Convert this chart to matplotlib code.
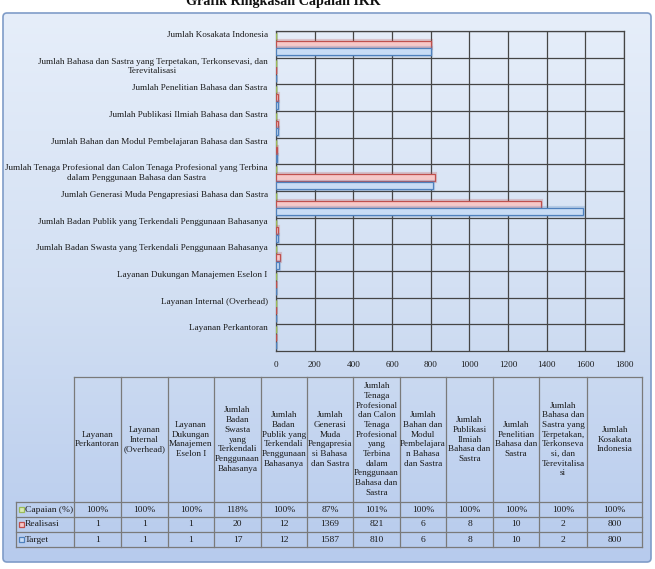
import numpy as np
import matplotlib.pyplot as plt
from matplotlib.patches import Rectangle, FancyBboxPatch
from matplotlib.colors import LinearSegmentedColormap
import matplotlib.patheffects as pe

plt.rcParams['font.family'] = ['Liberation Serif', 'DejaVu Serif']

# categories from bottom of the chart to the top (= table column order)
axis_labels = [
    "Layanan Perkantoran",
    "Layanan Internal (Overhead)",
    "Layanan Dukungan Manajemen Eselon I",
    "Jumlah Badan Swasta yang Terkendali Penggunaan Bahasanya",
    "Jumlah Badan Publik yang Terkendali Penggunaan Bahasanya",
    "Jumlah Generasi Muda Pengapresiasi Bahasa dan Sastra",
    "Jumlah Tenaga Profesional dan Calon Tenaga Profesional yang Terbina\ndalam Penggunaan Bahasa dan Sastra",
    "Jumlah Bahan dan Modul Pembelajaran Bahasa dan Sastra",
    "Jumlah Publikasi Ilmiah Bahasa dan Sastra",
    "Jumlah Penelitian Bahasa dan Sastra",
    "Jumlah Bahasa dan Sastra yang Terpetakan, Terkonsevasi, dan\nTerevitalisasi",
    "Jumlah Kosakata Indonesia",
]
table_headers = [
    "Layanan\nPerkantoran",
    "Layanan\nInternal\n(Overhead)",
    "Layanan\nDukungan\nManajemen\nEselon I",
    "Jumlah\nBadan\nSwasta\nyang\nTerkendali\nPenggunaan\nBahasanya",
    "Jumlah\nBadan\nPublik yang\nTerkendali\nPenggunaan\nBahasanya",
    "Jumlah\nGenerasi\nMuda\nPengapresia\nsi Bahasa\ndan Sastra",
    "Jumlah\nTenaga\nProfesional\ndan Calon\nTenaga\nProfesional\nyang\nTerbina\ndalam\nPenggunaan\nBahasa dan\nSastra",
    "Jumlah\nBahan dan\nModul\nPembelajara\nn Bahasa\ndan Sastra",
    "Jumlah\nPublikasi\nIlmiah\nBahasa dan\nSastra",
    "Jumlah\nPenelitian\nBahasa dan\nSastra",
    "Jumlah\nBahasa dan\nSastra yang\nTerpetakan,\nTerkonseva\nsi, dan\nTerevitalisa\nsi",
    "Jumlah\nKosakata\nIndonesia",
]
series_names = ["Capaian (%)", "Realisasi", "Target"]
capaian = [1.00, 1.00, 1.00, 1.18, 1.00, 0.87, 1.01, 1.00, 1.00, 1.00, 1.00, 1.00]
realisasi = [1, 1, 1, 20, 12, 1369, 821, 6, 8, 10, 2, 800]
target = [1, 1, 1, 17, 12, 1587, 810, 6, 8, 10, 2, 800]
x_ticks = [0, 200, 400, 600, 800, 1000, 1200, 1400, 1600, 1800]
title = "Grafik Ringkasan Capaian IKK"

W, H = 655, 569
fig = plt.figure(figsize=(W / 100, H / 100), dpi=100)
fig.patch.set_facecolor('white')

# background layer in pixel coordinates
bg = fig.add_axes([0, 0, 1, 1])
bg.set_xlim(0, W)
bg.set_ylim(H, 0)
bg.axis('off')

frame = FancyBboxPatch((3, 13), 648, 549, boxstyle="round,pad=0,rounding_size=4",
                       facecolor='none', edgecolor='#7f9cc8', lw=1.2, zorder=3)
bg.add_patch(frame)
cmap = LinearSegmentedColormap.from_list('bgc', ['#e6eefa', '#d3e0f3', '#b7cbed'])
grad = np.linspace(0, 1, 256).reshape(-1, 1)
im = bg.imshow(grad, cmap=cmap, aspect='auto', extent=[3, 651, 562, 13], zorder=1)
im.set_clip_path(frame)

# title is cut by the top edge, as in the original screenshot
bg.text(283, 5, title, ha='center', va='baseline', fontsize=10.2,
        fontweight='bold', color='#111111')

# bar chart
ax = fig.add_axes([276 / W, 1 - 351 / H, (624 - 276) / W, (351 - 31) / H])
ax.patch.set_alpha(0)
y = np.arange(len(axis_labels))
h = 0.26
styles = [('#d9ebb6', '#9bbb59', 0.29), ('#f6c8c8', '#c0504d', 0.01), ('#c8dcf5', '#4f81bd', -0.28)]
for vals, (fc, ec, off) in zip([capaian, realisasi, target], styles):
    ax.barh(y + off, vals, h, color=fc, edgecolor=ec, lw=0.9, zorder=3,
            path_effects=[pe.withStroke(linewidth=3, foreground=ec, alpha=0.25)])

ax.set_xlim(0, 1800)
ax.set_ylim(-0.5, len(axis_labels) - 0.5)
ax.set_xticks(x_ticks)
ax.set_yticks(y + 0.5)
ax.set_yticklabels(axis_labels)
for t in ax.get_yticklabels():
    t.set_va('top')
    t.set_multialignment('center')
ax.grid(True, color='#454545', lw=0.9)
ax.set_axisbelow(True)
for s in ax.spines.values():
    s.set_color('#454545')
    s.set_linewidth(0.9)
ax.tick_params(length=0, labelsize=6.6, colors='#1a1a1a')
ax.tick_params(axis='y', pad=6)
ax.tick_params(axis='x', pad=7)

# data table
col_x = [74, 121, 168, 214, 261, 307, 353, 400, 446, 493, 539, 587, 642]
row_y = [377, 502, 517, 532, 547]
lc = '#7a7a7a'
bg.plot([col_x[0], col_x[-1]], [row_y[0]] * 2, color=lc, lw=0.9, zorder=4)
for yy in row_y[1:]:
    bg.plot([16, col_x[-1]], [yy] * 2, color=lc, lw=0.9, zorder=4)
for xx in col_x:
    bg.plot([xx, xx], [row_y[0], row_y[-1]], color=lc, lw=0.9, zorder=4)
bg.plot([16, 16], [row_y[1], row_y[-1]], color=lc, lw=0.9, zorder=4)

for j, head in enumerate(table_headers):
    cx = (col_x[j] + col_x[j + 1]) / 2
    bg.text(cx, (row_y[0] + row_y[1]) / 2, head, ha='center', va='center',
            fontsize=6.6, linespacing=1.28, color='#1a1a1a', zorder=5)

row_text = [[f"{round(v * 100)}%" for v in capaian],
            [str(v) for v in realisasi],
            [str(v) for v in target]]
for i, (name, cells, (fc, ec, _)) in enumerate(zip(series_names, row_text, styles)):
    cy = (row_y[i + 1] + row_y[i + 2]) / 2
    bg.add_patch(Rectangle((18.5, cy - 2.5), 5, 5, facecolor=fc, edgecolor=ec, lw=0.9, zorder=5))
    bg.text(25, cy, name, ha='left', va='center', fontsize=6.8, color='#1a1a1a', zorder=5)
    for j, txt in enumerate(cells):
        cx = (col_x[j] + col_x[j + 1]) / 2
        bg.text(cx, cy, txt, ha='center', va='center', fontsize=6.8, color='#1a1a1a', zorder=5)

fig.savefig('out.png', dpi=100)
